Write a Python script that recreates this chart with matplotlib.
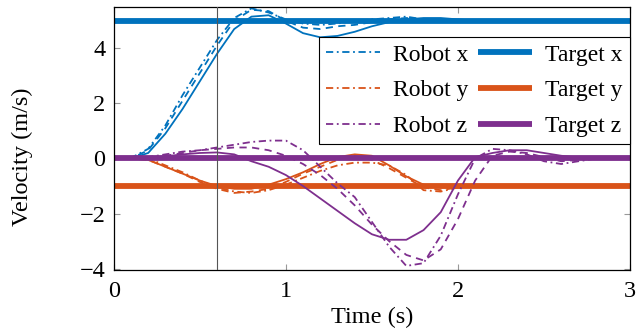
import matplotlib
matplotlib.use("Agg")
import matplotlib.pyplot as plt

# time samples (s)
t = [0.0, 0.1, 0.2, 0.3, 0.4, 0.5, 0.6, 0.7, 0.8, 0.9, 1.0,
     1.1, 1.2, 1.3, 1.4, 1.5, 1.6, 1.7, 1.8, 1.9, 2.0,
     2.1, 2.2, 2.3, 2.4, 2.5, 2.6, 2.7, 2.8, 2.9, 3.0]

# robot velocity, three runs per axis (solid, dashed, dash-dot)
x_run1 = [0.0, 0.0, 0.2, 0.9, 1.8, 2.8, 3.8, 4.7, 5.15, 5.2, 4.9,
          4.55, 4.4, 4.45, 4.6, 4.8, 4.95, 5.05, 5.1, 5.1, 5.05,
          5.0, 4.98, 4.97, 4.98, 5.0, 5.0, 5.0, 5.0, 5.0, 5.0]
x_run2 = [0.0, 0.0, 0.3, 1.1, 2.1, 3.1, 4.1, 5.0, 5.4, 5.35, 5.0,
          4.75, 4.7, 4.8, 4.85, 4.95, 5.05, 5.1, 5.05, 5.0, 5.0,
          4.98, 5.0, 5.0, 5.0, 5.0, 5.0, 5.0, 5.0, 5.0, 5.0]
x_run3 = [0.0, 0.02, 0.35, 1.2, 2.3, 3.3, 4.3, 5.1, 5.45, 5.3, 5.05,
          4.9, 4.85, 4.9, 5.0, 5.05, 5.1, 5.15, 5.05, 5.0, 5.0,
          5.0, 5.0, 5.0, 5.0, 5.0, 5.0, 5.0, 5.0, 5.0, 5.0]

y_run1 = [0.0, 0.0, -0.05, -0.3, -0.55, -0.8, -1.0, -1.1, -1.1, -0.95, -0.75,
          -0.5, -0.2, 0.05, 0.15, 0.1, -0.25, -0.65, -0.95, -1.05, -1.05,
          -1.0, -1.0, -1.0, -1.0, -1.0, -1.0, -1.0, -1.0, -1.0, -1.0]
y_run2 = [0.0, 0.0, -0.05, -0.3, -0.55, -0.85, -1.1, -1.25, -1.2, -1.1, -0.85,
          -0.55, -0.3, -0.05, 0.1, -0.05, -0.35, -0.7, -1.05, -1.15, -1.05,
          -1.0, -1.0, -1.0, -1.0, -1.0, -1.0, -1.0, -1.0, -1.0, -1.0]
y_run3 = [0.0, 0.0, 0.0, -0.25, -0.5, -0.8, -1.05, -1.2, -1.25, -1.15, -0.95,
          -0.7, -0.45, -0.25, -0.15, -0.15, -0.25, -0.6, -1.15, -1.2, -1.05,
          -1.0, -1.0, -1.0, -1.0, -1.0, -1.0, -1.0, -1.0, -1.0, -1.0]

z_run1 = [0.0, 0.0, 0.02, 0.08, 0.15, 0.2, 0.22, 0.15, -0.1, -0.3, -0.6,
          -1.0, -1.45, -1.9, -2.35, -2.75, -2.95, -2.95, -2.6, -1.95, -0.8,
          0.05, 0.2, 0.3, 0.3, 0.2, 0.1, 0.03, 0.0, 0.0, 0.0]
z_run2 = [0.0, 0.0, 0.03, 0.1, 0.2, 0.3, 0.35, 0.4, 0.4, 0.3, 0.1,
          -0.2, -0.6, -1.1, -1.7, -2.4, -3.0, -3.5, -3.7, -3.3, -2.2,
          -0.8, 0.1, 0.25, 0.2, 0.05, -0.1, -0.05, 0.0, 0.0, 0.0]
z_run3 = [0.0, 0.0, 0.05, 0.15, 0.25, 0.3, 0.4, 0.5, 0.6, 0.65, 0.65,
          0.3, -0.3, -0.9, -1.4, -2.3, -3.2, -3.9, -3.8, -2.8, -1.3,
          0.0, 0.35, 0.3, 0.15, -0.1, -0.2, -0.1, 0.0, 0.0, 0.0]

# target velocities (m/s)
target_x = [5.0] * len(t)
target_y = [-1.0] * len(t)
target_z = [0.0] * len(t)

blue, orange, purple = "#0072BD", "#D95319", "#7E2F8E"

plt.rcParams['font.family'] = ['Liberation Serif', 'DejaVu Serif']
plt.rcParams['mathtext.fontset'] = 'stix'

fig = plt.figure(figsize=(6.39, 3.33), dpi=100)
ax = fig.add_axes([0.178, 0.189, 0.808, 0.79])

lw = 1.3
handles_robot = []
handles_target = []
for runs, target, col, name in [((x_run1, x_run2, x_run3), target_x, blue, "x"),
                                ((y_run1, y_run2, y_run3), target_y, orange, "y"),
                                ((z_run1, z_run2, z_run3), target_z, purple, "z")]:
    ax.plot(t, runs[0], color=col, lw=lw, ls='-')
    ax.plot(t, runs[1], color=col, lw=lw, ls=(0, (4, 3)))
    h, = ax.plot(t, runs[2], color=col, lw=lw, ls=(0, (4, 2, 1, 2)))
    h.set_label("Robot " + name)
    handles_robot.append(h)
    ht, = ax.plot(t, target, color=col, lw=4.2, solid_capstyle='butt',
                  label="Target " + name)
    handles_target.append(ht)

ax.axvline(0.6, color='#555555', lw=0.8, zorder=10)

ax.set_xlim(0, 3)
ax.set_ylim(-4.05, 5.5)
ax.set_xticks([0, 1, 2, 3])
ax.set_yticks([-4, -2, 0, 2, 4])
ax.tick_params(direction='in', length=4, color='#999999', labelsize=17.5,
               top=True, right=True)
ax.tick_params(axis='x', pad=8)
ax.tick_params(axis='y', pad=6)
for s in ax.spines.values():
    s.set_linewidth(0.9)

ax.set_xlabel("Time (s)", fontsize=17.5)
ax.set_ylabel("Velocity (m/s)", fontsize=17.5)
ax.xaxis.set_label_coords(0.5, -0.14)
ax.yaxis.set_label_coords(-0.157, 0.43)

leg = ax.legend(handles=handles_robot + handles_target, ncol=2, loc='upper right',
                bbox_to_anchor=(1.0, 0.886), fontsize=17, frameon=True,
                fancybox=False, edgecolor='black', framealpha=1,
                handlelength=2.3, handletextpad=0.55, columnspacing=0.4,
                borderpad=0.3, labelspacing=0.6, borderaxespad=0)
leg.get_frame().set_linewidth(0.8)

fig.savefig("out.png", dpi=100)
